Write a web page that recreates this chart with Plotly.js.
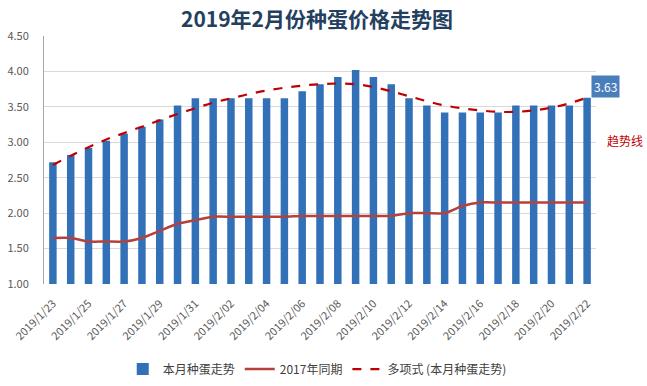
<!DOCTYPE html>
<html><head><meta charset="utf-8">
<script src="https://cdn.plot.ly/plotly-3.0.1.min.js"></script>
<style>html,body{margin:0;padding:0;background:#fff}#c{width:647px;height:386px}</style>
</head><body><div id="c"></div>
<script>
const dates = ['2019/1/23','2019/1/24','2019/1/25','2019/1/26','2019/1/27','2019/1/28','2019/1/29','2019/1/30','2019/1/31',
'2019/2/01','2019/2/02','2019/2/03','2019/2/04','2019/2/05','2019/2/06','2019/2/07','2019/2/08','2019/2/09','2019/2/10',
'2019/2/11','2019/2/12','2019/2/13','2019/2/14','2019/2/15','2019/2/16','2019/2/17','2019/2/18','2019/2/19','2019/2/20','2019/2/21','2019/2/22'];
const thisMonth = [2.72,2.82,2.92,3.02,3.12,3.22,3.32,3.52,3.62,3.62,3.62,3.62,3.62,3.62,3.72,3.82,3.92,4.02,3.92,3.82,3.62,3.52,3.42,3.42,3.42,3.42,3.52,3.52,3.52,3.52,3.63];
const lastYear2017 = [1.65,1.65,1.60,1.60,1.60,1.65,1.75,1.85,1.90,1.95,1.95,1.95,1.95,1.95,1.96,1.96,1.96,1.96,1.96,1.96,2.00,2.00,2.00,2.10,2.15,2.15,2.15,2.15,2.15,2.15,2.15];
const trendPoly = [2.68,2.81,2.93,3.04,3.13,3.22,3.31,3.40,3.48,3.56,3.62,3.68,3.73,3.77,3.80,3.82,3.83,3.82,3.78,3.72,3.65,3.58,3.52,3.48,3.45,3.43,3.43,3.45,3.49,3.55,3.63];
const tickDates = dates.filter((d,i)=>i%2===0);
const yTicks = [1.00,1.50,2.00,2.50,3.00,3.50,4.00,4.50];
const F = '"Noto Sans CJK SC", "Liberation Sans", sans-serif';

const traces = [
  {type:'bar', x:dates, y:thisMonth, name:'本月种蛋走势', marker:{color:'#3270b8', line:{width:0}}},
  {type:'scatter', mode:'lines', x:dates, y:lastYear2017, name:'2017年同期', line:{color:'#b5413f', width:2.5, shape:'spline', smoothing:0.6}},
  {type:'scatter', mode:'lines', x:dates, y:trendPoly, name:'多项式 (本月种蛋走势)', line:{color:'#c00000', width:2.2, dash:'dash', shape:'spline'}}
];
const last = dates.length-1;
const layout = {
  width:647, height:386, paper_bgcolor:'#fff', plot_bgcolor:'#fff',
  margin:{l:44, r:51, t:36, b:102, autoexpand:false},
  font:{family:F, size:11, color:'#595959'},
  title:{text:'<b>2019年2月份种蛋价格走势图</b>', font:{family:F, size:21, color:'#243f60'}, xref:'container', x:0.49, xanchor:'center', yref:'container', y:0.948, yanchor:'middle'},
  bargap:0.58,
  showlegend:true,
  legend:{orientation:'h', x:0.495, xanchor:'center', y:-0.343, yanchor:'middle', font:{family:F, size:12, color:'#404040'}, traceorder:'normal', itemwidth:30},
  xaxis:{type:'category', range:[-0.5, dates.length-0.5], automargin:false, tickvals:tickDates, ticktext:tickDates, tickangle:-45, ticklabelstandoff:10, showgrid:false, zeroline:false, showline:false, ticks:'', tickfont:{size:11, color:'#595959'}},
  yaxis:{range:[1,4.5], automargin:false, tickvals:yTicks, ticktext:yTicks.map(v=>v.toFixed(2)), ticklabelstandoff:12, showgrid:true, gridcolor:'#d9d9d9', gridwidth:1, showline:true, linecolor:'#a6a6a6', zeroline:false, ticks:'', tickfont:{size:11, color:'#595959'}},
  annotations:[
    {x:dates[last], y:thisMonth[last], xref:'x', yref:'y', text:thisMonth[last].toFixed(2), showarrow:false, xanchor:'center', yanchor:'middle', xshift:18, yshift:11, bgcolor:'#4a7ebb', font:{family:F, size:12, color:'#fff'}, borderpad:2},
    {x:1.0525, y:0.58, xref:'paper', yref:'paper', xanchor:'center', yanchor:'middle', text:'趋势线', showarrow:false, font:{family:F, size:12, color:'#c00000'}}
  ]
};
Plotly.newPlot('c', traces, layout, {displayModeBar:false, staticPlot:true});
</script></body></html>
